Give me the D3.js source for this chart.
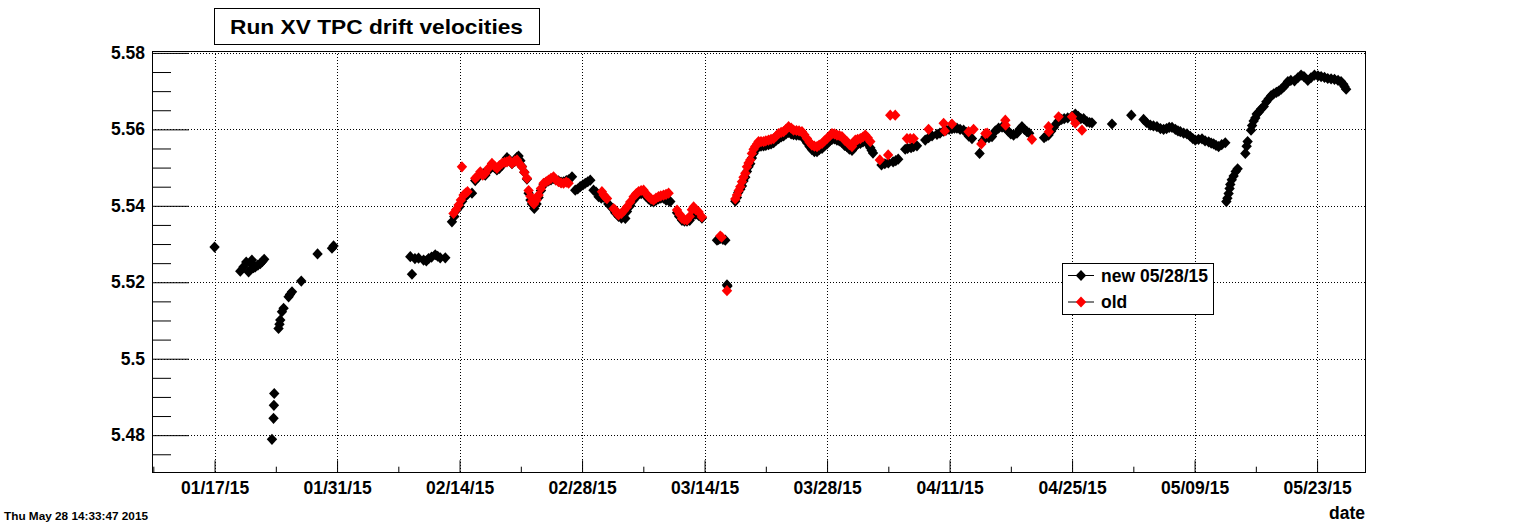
<!DOCTYPE html>
<html>
<head>
<meta charset="utf-8">
<script src="https://cdn.jsdelivr.net/npm/d3@7"></script>
<style>
  html, body { margin: 0; padding: 0; background: #fff; }
  svg { display: block; }
  text { font-family: "Liberation Sans", Arial, Helvetica, sans-serif; font-weight: bold; }
</style>
</head>
<body>
<svg id="chart" width="1518" height="526"></svg>
<script>
// ---------------- DATA ----------------
// day = day of year 2015 (fractional; 17.0 = 01/17/15 00:00), value = drift velocity
const titleText = "Run XV TPC drift velocities";
const xAxisTitle = "date";
const dateStamp = "Thu May 28 14:33:47 2015";
const legendLabels = ["new 05/28/15", "old"];
const seriesColors = ["#000000", "#ff0000"];

const yTickValues = [5.48, 5.5, 5.52, 5.54, 5.56, 5.58];
const yTickLabels = ["5.48", "5.5", "5.52", "5.54", "5.56", "5.58"];
const xMajorTickDays = [17, 31, 45, 59, 73, 87, 101, 115, 129, 143];
const xMinorTickDays = [10, 24, 38, 52, 66, 80, 94, 108, 122, 136];

const newPoints = [
  [17.00,5.5292],
  [19.94,5.5229],[20.30,5.5240],[20.62,5.5253],[20.89,5.5227],[21.10,5.5250],[21.27,5.5258],[21.45,5.5238],[21.65,5.5240],[21.95,5.5245],[22.22,5.5249],[22.45,5.5254],[22.67,5.5260],
  [23.56,5.4789],[23.74,5.4844],[23.78,5.4878],[23.82,5.4909],
  [24.31,5.5079],[24.42,5.5090],[24.51,5.5101],[24.70,5.5123],[24.89,5.5132],
  [25.46,5.5162],[25.62,5.5168],[25.85,5.5175],
  [26.91,5.5203],
  [28.77,5.5274],
  [30.42,5.5289],[30.60,5.5295],
  [39.37,5.5267],[39.56,5.5221],[39.90,5.5262],[40.31,5.5263],[40.89,5.5258],[41.20,5.5256],[41.46,5.5262],[41.80,5.5266],[42.22,5.5272],[42.50,5.5268],[42.79,5.5264],[43.37,5.5264],
  [44.13,5.5358],[44.40,5.5372],[44.70,5.5390],[45.00,5.5398],[45.30,5.5412],[45.60,5.5424],[45.91,5.5430],[46.42,5.5433],
  [46.79,5.5466],[47.10,5.5474],[47.37,5.5482],[47.70,5.5484],[47.94,5.5480],[48.30,5.5492],[48.70,5.5503],[49.00,5.5500],[49.27,5.5494],[49.55,5.5498],[49.85,5.5506],[50.15,5.5514],[50.42,5.5526],[50.70,5.5520],[50.99,5.5510],[51.30,5.5516],[51.56,5.5527],[51.74,5.5530],[51.95,5.5518],[52.13,5.5503],[52.40,5.5488],[52.70,5.5470],
  [52.89,5.5433],[53.10,5.5415],[53.27,5.5405],[53.54,5.5393],[53.80,5.5405],[54.03,5.5422],[54.30,5.5440],[54.60,5.5455],[54.90,5.5462],[55.17,5.5465],[55.45,5.5468],[55.74,5.5472],[56.00,5.5468],[56.31,5.5465],[56.60,5.5462],[56.89,5.5463],[57.20,5.5466],[57.46,5.5468],[57.85,5.5476],
  [58.22,5.5441],[58.50,5.5444],[58.79,5.5450],[59.10,5.5455],[59.37,5.5459],[59.65,5.5463],[59.94,5.5467],[60.31,5.5441],[60.60,5.5436],[60.89,5.5424],[61.20,5.5420],[61.50,5.5422],
  [62.00,5.5405],[62.50,5.5392],[62.79,5.5382],[63.17,5.5372],[63.50,5.5368],[63.94,5.5367],[64.13,5.5385],[64.50,5.5400],[64.89,5.5415],[65.20,5.5425],[65.46,5.5430],[65.75,5.5432],[66.03,5.5435],[66.30,5.5425],[66.60,5.5418],[66.90,5.5412],[67.17,5.5410],[67.45,5.5414],[67.74,5.5418],[68.00,5.5420],[68.31,5.5420],[68.60,5.5415],[68.89,5.5414],[69.08,5.5411],
  [69.85,5.5382],[70.10,5.5372],[70.42,5.5362],[70.70,5.5360],[70.99,5.5360],[71.30,5.5362],[71.55,5.5372],[71.75,5.5380],[72.00,5.5378],[72.32,5.5375],[72.70,5.5368],
  [74.42,5.5310],[74.60,5.5312],[74.79,5.5315],[75.10,5.5312],[75.37,5.5310],
  [75.56,5.5193],[75.62,5.5190],
  [76.51,5.5412],[76.70,5.5422],[76.85,5.5435],[77.08,5.5443],[77.27,5.5452],[77.45,5.5465],[77.65,5.5475],[77.84,5.5490],[78.02,5.5502],[78.22,5.5510],[78.41,5.5525],[78.60,5.5537],[78.79,5.5545],[79.00,5.5552],[79.17,5.5556],[79.45,5.5556],[79.74,5.5557],[80.00,5.5558],[80.31,5.5560],[80.60,5.5562],[80.89,5.5565],[81.20,5.5572],[81.46,5.5576],[81.75,5.5580],[82.03,5.5583],[82.30,5.5588],[82.60,5.5592],[82.90,5.5588],[83.17,5.5586],[83.50,5.5585],[83.80,5.5585],[84.13,5.5582],[84.40,5.5575],[84.70,5.5565],[85.00,5.5555],[85.27,5.5547],[85.55,5.5542],[85.85,5.5542],[86.10,5.5547],[86.42,5.5550],[86.70,5.5557],[86.99,5.5562],[87.30,5.5570],[87.56,5.5574],[87.85,5.5575],[88.13,5.5572],[88.40,5.5570],[88.70,5.5566],[89.00,5.5558],[89.27,5.5555],[89.55,5.5548],[89.85,5.5545],[90.10,5.5552],[90.23,5.5558],[90.50,5.5562],[90.80,5.5563],[91.10,5.5567],[91.37,5.5570],[91.65,5.5562],[91.94,5.5552],[92.10,5.5545],[92.25,5.5538],
  [93.22,5.5507],[93.60,5.5510],[94.00,5.5512],[94.55,5.5515],[94.85,5.5518],[95.13,5.5522],
  [95.93,5.5548],[96.20,5.5550],[96.60,5.5552],[96.89,5.5555],[97.27,5.5557],
  [98.22,5.5572],[98.60,5.5578],[99.00,5.5583],[99.56,5.5587],[99.90,5.5590],[100.30,5.5595],[100.60,5.5598],[100.95,5.5600],[101.27,5.5602],[101.55,5.5603],[101.84,5.5603],[102.20,5.5600],[102.60,5.5598],[102.90,5.5592],[103.20,5.5582],[103.56,5.5576],
  [104.43,5.5537],
  [104.80,5.5570],[105.09,5.5580],[105.50,5.5578],[105.85,5.5581],[106.23,5.5596],[106.60,5.5603],[107.00,5.5606],[107.37,5.5603],[107.70,5.5595],[108.00,5.5588],[108.31,5.5585],[108.70,5.5590],[109.00,5.5600],[109.27,5.5607],[109.55,5.5600],[109.84,5.5594],[110.10,5.5590],
  [111.80,5.5578],[112.05,5.5582],[112.31,5.5585],[112.60,5.5595],[112.90,5.5605],[113.20,5.5615],[113.46,5.5622],[113.80,5.5626],[114.10,5.5628],[114.50,5.5630],[114.99,5.5634],[115.37,5.5640],[115.70,5.5634],[116.00,5.5628],[116.32,5.5628],[116.70,5.5620],[117.00,5.5618],[117.27,5.5617],
  [119.56,5.5614],
  [121.77,5.5637],
  [123.17,5.5626],[123.50,5.5618],[123.94,5.5611],[124.30,5.5609],[124.70,5.5607],[125.10,5.5602],[125.46,5.5600],[125.80,5.5602],[126.10,5.5605],[126.42,5.5605],[126.80,5.5600],[127.10,5.5596],[127.37,5.5594],[127.75,5.5590],[128.13,5.5588],[128.50,5.5582],[128.80,5.5576],[129.08,5.5572],[129.45,5.5574],[129.85,5.5575],[130.20,5.5570],[130.61,5.5567],[130.90,5.5564],[131.18,5.5562],[131.45,5.5558],[131.75,5.5555],[132.10,5.5560],[132.51,5.5565],
  [132.63,5.5411],[132.75,5.5420],[132.89,5.5432],[133.00,5.5445],[133.08,5.5456],[133.25,5.5468],[133.46,5.5478],[133.70,5.5490],[133.92,5.5497],
  [134.80,5.5537],[134.95,5.5556],[135.06,5.5568],
  [135.45,5.5598],[135.57,5.5610],[135.75,5.5622],[135.94,5.5630],[136.10,5.5640],[136.33,5.5645],[136.60,5.5653],[136.90,5.5660],[137.20,5.5672],[137.47,5.5680],[137.75,5.5688],[138.04,5.5693],[138.35,5.5697],[138.61,5.5700],[138.90,5.5705],[139.18,5.5711],[139.45,5.5718],[139.66,5.5725],
  [140.00,5.5728],[140.42,5.5727],[140.80,5.5735],[141.17,5.5742],[141.50,5.5738],[141.94,5.5728],[142.30,5.5735],[142.70,5.5742],[143.10,5.5740],[143.46,5.5738],[143.85,5.5736],[144.22,5.5733],[144.60,5.5732],[144.99,5.5731],[145.40,5.5728],[145.74,5.5725],[146.00,5.5718],[146.13,5.5712],[146.32,5.5705]
];

const oldPoints = [
  [44.31,5.5380],[44.60,5.5390],[44.89,5.5402],[45.15,5.5415],[45.46,5.5428],[45.70,5.5433],[45.91,5.5437],
  [45.27,5.5502],
  [46.79,5.5472],[47.05,5.5478],[47.37,5.5489],[47.65,5.5480],[47.94,5.5485],[48.30,5.5498],[48.70,5.5511],[49.00,5.5504],[49.27,5.5498],[49.55,5.5505],[49.85,5.5511],[50.15,5.5514],[50.42,5.5515],[50.70,5.5518],[50.99,5.5511],[51.30,5.5517],[51.56,5.5520],[51.85,5.5510],[52.13,5.5502],[52.40,5.5488],[52.70,5.5472],
  [52.89,5.5440],[53.10,5.5425],[53.27,5.5411],[53.50,5.5405],[53.80,5.5415],[54.03,5.5428],[54.30,5.5445],[54.60,5.5459],[54.90,5.5463],[55.17,5.5467],[55.45,5.5472],[55.74,5.5476],[56.00,5.5468],[56.31,5.5463],[56.60,5.5460],[56.89,5.5459],[57.20,5.5462],[57.46,5.5459],
  [61.27,5.5437],[61.46,5.5428],[61.70,5.5422],[61.85,5.5419],
  [62.60,5.5393],[62.79,5.5389],[63.00,5.5380],[63.17,5.5376],[63.50,5.5380],[63.80,5.5388],[64.13,5.5397],[64.50,5.5410],[64.89,5.5424],[65.20,5.5432],[65.46,5.5437],[65.75,5.5440],[66.03,5.5441],[66.30,5.5432],[66.60,5.5424],[66.90,5.5418],[67.17,5.5415],[67.45,5.5420],[67.74,5.5424],[68.00,5.5426],[68.31,5.5428],[68.60,5.5430],[68.89,5.5433],
  [69.85,5.5389],[70.15,5.5378],[70.42,5.5367],[70.70,5.5364],[70.99,5.5363],[71.30,5.5372],[71.55,5.5390],[71.75,5.5397],[72.00,5.5390],[72.32,5.5384],[72.70,5.5371],
  [74.79,5.5321],[74.95,5.5318],
  [75.56,5.5178],
  [76.51,5.5418],[76.70,5.5428],[76.90,5.5440],[77.08,5.5450],[77.27,5.5463],[77.45,5.5475],[77.65,5.5485],[77.84,5.5502],[78.02,5.5512],[78.22,5.5520],[78.41,5.5537],[78.60,5.5548],[78.79,5.5555],[79.00,5.5562],[79.17,5.5568],[79.45,5.5568],[79.74,5.5568],[80.00,5.5570],[80.31,5.5572],[80.60,5.5574],[80.89,5.5576],[81.20,5.5583],[81.46,5.5589],[81.75,5.5592],[82.03,5.5594],[82.30,5.5600],[82.60,5.5607],[82.90,5.5603],[83.17,5.5598],[83.50,5.5597],[83.80,5.5596],[84.13,5.5594],[84.40,5.5586],[84.70,5.5576],[85.00,5.5566],[85.27,5.5559],[85.55,5.5556],[85.85,5.5555],[86.10,5.5559],[86.42,5.5563],[86.70,5.5570],[86.99,5.5576],[87.30,5.5583],[87.56,5.5589],[87.85,5.5588],[88.13,5.5585],[88.40,5.5584],[88.70,5.5581],[89.00,5.5572],[89.27,5.5568],[89.55,5.5560],[89.85,5.5555],[90.10,5.5565],[90.23,5.5572],[90.50,5.5574],[90.80,5.5576],[91.10,5.5580],[91.37,5.5585],[91.65,5.5578],[91.94,5.5568],
  [93.03,5.5520],[93.98,5.5533],
  [94.22,5.5637],[94.79,5.5637],
  [96.13,5.5576],[96.50,5.5576],[96.89,5.5576],
  [98.60,5.5600],
  [100.32,5.5616],[100.45,5.5596],[101.27,5.5614],
  [103.17,5.5594],[103.74,5.5600],
  [104.63,5.5562],[105.09,5.5589],[105.30,5.5590],
  [107.37,5.5624],[107.40,5.5611],
  [110.41,5.5574],
  [112.31,5.5607],[112.35,5.5594],[113.46,5.5633],[114.99,5.5633],[115.37,5.5616],[116.13,5.5598]
];

// ---------------- LAYOUT ----------------
const frame = { left: 152, right: 1366, top: 51, bottom: 473 };
const xDomainDays = [9.85, 148.59];
const yDomain = [5.4701, 5.5805];

const dayToDate = d => new Date(Date.UTC(2015, 0, 1) + (d - 1) * 86400000);

const svg = d3.select("#chart");
svg.append("rect").attr("width", 1518).attr("height", 526).attr("fill", "#fff");

const x = d3.scaleUtc()
  .domain(xDomainDays.map(dayToDate))
  .range([frame.left, frame.right]);
const y = d3.scaleLinear()
  .domain(yDomain)
  .range([frame.bottom, frame.top]);

const fmt = d3.utcFormat("%m/%d/%y");
const plotW = frame.right - frame.left, plotH = frame.bottom - frame.top;

// grid
const grid = svg.append("g").attr("stroke", "#000").attr("stroke-width", 1).attr("stroke-dasharray", "1,2").attr("fill", "none");
grid.selectAll("line.v").data(xMajorTickDays).join("line")
  .attr("x1", d => Math.round(x(dayToDate(d))) + 0.5).attr("x2", d => Math.round(x(dayToDate(d))) + 0.5)
  .attr("y1", frame.top).attr("y2", frame.bottom);
grid.selectAll("line.h").data(yTickValues).join("line")
  .attr("y1", d => Math.round(y(d)) + 0.5).attr("y2", d => Math.round(y(d)) + 0.5)
  .attr("x1", frame.left).attr("x2", frame.right);

// x axis (ticks pointing up)
const xAxis = d3.axisBottom(x)
  .tickValues(xMajorTickDays.map(dayToDate))
  .tickFormat(fmt)
  .tickSizeInner(-12.7).tickSizeOuter(0).tickPadding(0);
const gx = svg.append("g").attr("transform", `translate(0,${frame.bottom})`).call(xAxis);
gx.select(".domain").remove();
gx.selectAll("text").attr("font-size", 17.5).attr("font-weight", "bold")
  .attr("font-family", "Liberation Sans, Arial, sans-serif").attr("fill", "#000")
  .attr("dy", null).attr("y", 21);
gx.selectAll("line").attr("stroke", "#000");
const xMinor = d3.axisBottom(x).tickValues(xMinorTickDays.map(dayToDate)).tickFormat("").tickSizeInner(-6.3).tickSizeOuter(0);
const gxm = svg.append("g").attr("transform", `translate(0,${frame.bottom})`).call(xMinor);
gxm.select(".domain").remove();
gxm.selectAll("line").attr("stroke", "#000");

// y axis (ticks pointing right)
const yAxis = d3.axisLeft(y)
  .tickValues(yTickValues)
  .tickFormat((d, i) => yTickLabels[i])
  .tickSizeInner(-37).tickSizeOuter(0).tickPadding(8);
const gy = svg.append("g").attr("transform", `translate(${frame.left},0)`).call(yAxis);
gy.select(".domain").remove();
gy.selectAll("text").attr("font-size", 17.5).attr("font-weight", "bold")
  .attr("font-family", "Liberation Sans, Arial, sans-serif").attr("fill", "#000")
  .attr("x", -7);
gy.selectAll("line").attr("stroke", "#000");
const yMinorVals = d3.range(5.475, 5.5801, 0.005).filter(v => !yTickValues.some(t => Math.abs(t - v) < 1e-6));
const yMinor = d3.axisLeft(y).tickValues(yMinorVals).tickFormat("").tickSizeInner(-19).tickSizeOuter(0);
const gym = svg.append("g").attr("transform", `translate(${frame.left},0)`).call(yMinor);
gym.select(".domain").remove();
gym.selectAll("line").attr("stroke", "#000");

// frame
svg.append("rect").attr("x", frame.left + 0.5).attr("y", frame.top + 0.5)
  .attr("width", plotW - 1).attr("height", plotH - 1)
  .attr("fill", "none").attr("stroke", "#000").attr("stroke-width", 1);

// markers (filled diamonds)
const diamond = "M0,-5.6L5.2,0L0,5.6L-5.2,0Z";
const clip = svg.append("clipPath").attr("id", "plotclip").append("rect")
  .attr("x", frame.left).attr("y", frame.top).attr("width", plotW).attr("height", plotH);
const pts = svg.append("g").attr("clip-path", "url(#plotclip)");
[newPoints, oldPoints].forEach((series, si) => {
  pts.append("g").selectAll("path").data(series).join("path")
    .attr("d", diamond)
    .attr("transform", d => `translate(${x(dayToDate(d[0]))},${y(d[1])})`)
    .attr("fill", seriesColors[si]);
});

// title box
svg.append("rect").attr("x", 214.5).attr("y", 8.5).attr("width", 325).attr("height", 36)
  .attr("fill", "#fff").attr("stroke", "#000");
svg.append("text").attr("x", 376.5).attr("y", 34).attr("text-anchor", "middle")
  .attr("font-size", 20.5).attr("textLength", 293).attr("lengthAdjust", "spacingAndGlyphs")
  .attr("fill", "#000").text(titleText);

// legend
const lg = svg.append("g");
lg.append("rect").attr("x", 1062.5).attr("y", 263.5).attr("width", 151).attr("height", 51)
  .attr("fill", "#fff").attr("stroke", "#000");
legendLabels.forEach((lab, i) => {
  const cy = 275 + i * 26.5;
  lg.append("line").attr("x1", 1068).attr("x2", 1094).attr("y1", cy + 0.5).attr("y2", cy + 0.5).attr("stroke", "#000");
  lg.append("path").attr("d", diamond).attr("transform", `translate(1081,${cy + 0.5})`).attr("fill", seriesColors[i]);
  lg.append("text").attr("x", 1101).attr("y", cy + 6.5).attr("font-size", 17.5).attr("fill", "#000").text(lab);
});

// axis title & date stamp
svg.append("text").attr("x", 1365).attr("y", 519).attr("text-anchor", "end")
  .attr("font-size", 17.5).attr("fill", "#000").text(xAxisTitle);
svg.append("text").attr("x", 4).attr("y", 520)
  .attr("font-size", 11).attr("textLength", 144).attr("lengthAdjust", "spacingAndGlyphs")
  .attr("fill", "#000").text(dateStamp);
</script>
</body>
</html>
